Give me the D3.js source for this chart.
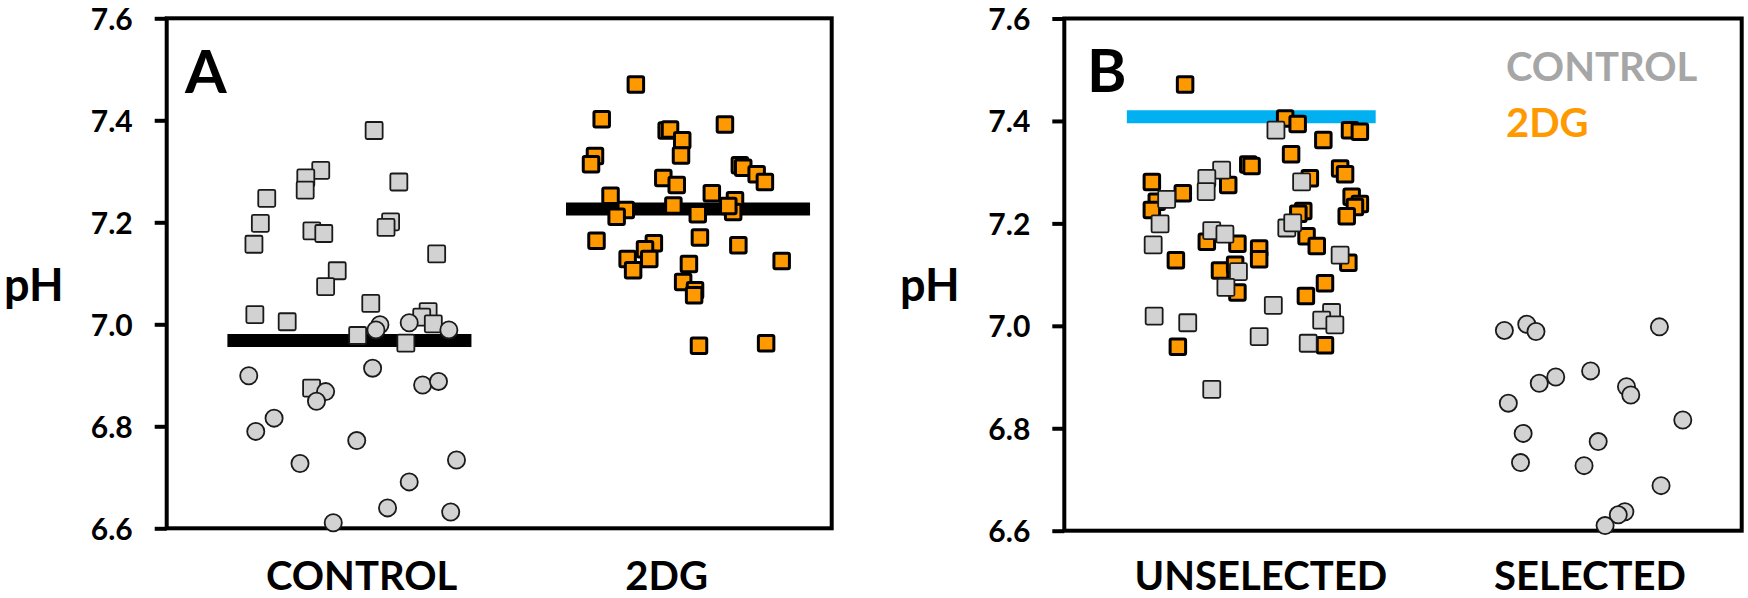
<!DOCTYPE html>
<html>
<head>
<meta charset="utf-8">
<script src="https://cdn.jsdelivr.net/npm/d3@7"></script>
<style>
  html, body { margin: 0; padding: 0; background: #fff; }
  svg { display: block; font-family: Lato, "Open Sans", sans-serif; font-weight: 700; }
</style>
</head>
<body>
<svg id="chart" width="1748" height="598"></svg>
<script>
// ---------------- DATA ----------------
const yTickValues = [6.6, 6.8, 7.0, 7.2, 7.4, 7.6];
const yDomain = [6.6, 7.6];
const yLabel = "pH";

const categoriesA = ["CONTROL", "2DG"];
const categoriesB = ["UNSELECTED", "SELECTED"];
const legendLabels = ["CONTROL", "2DG"];

// Panel A – CONTROL group, square cells  [x (category units, jittered), pH]
const controlSquaresA = [
  [0.041, 7.380], [-0.134, 7.302], [-0.183, 7.287], [-0.185, 7.263], [0.122, 7.279],
  [-0.311, 7.247], [-0.332, 7.198], [-0.353, 7.157], [-0.163, 7.183], [-0.124, 7.178],
  [0.095, 7.201], [0.080, 7.190], [0.246, 7.138], [-0.080, 7.105], [-0.118, 7.074],
  [0.030, 7.041], [-0.350, 7.019], [-0.244, 7.005], [-0.013, 6.978], [0.145, 6.963],
  [0.218, 7.025], [0.197, 7.014], [0.235, 7.001], [-0.164, 6.875]
];
// Panel A – CONTROL group, circle cells
const controlCirclesA = [
  [0.060, 6.999], [0.047, 6.989], [0.156, 7.003], [0.286, 6.989], [-0.370, 6.899],
  [0.036, 6.914], [0.200, 6.881], [0.252, 6.888], [-0.118, 6.868], [-0.148, 6.849],
  [-0.287, 6.816], [-0.347, 6.790], [-0.016, 6.772], [-0.202, 6.727], [0.311, 6.734],
  [0.156, 6.691], [0.085, 6.640], [0.292, 6.632], [-0.093, 6.611]
];
// Panel A – 2DG group
const dgSquaresA = [
  [0.899, 7.470], [0.787, 7.402], [1.191, 7.392], [1.000, 7.380], [1.011, 7.382],
  [1.051, 7.361], [1.047, 7.331], [0.765, 7.330], [0.752, 7.314], [1.240, 7.312],
  [1.251, 7.307], [1.295, 7.294], [1.322, 7.279], [0.989, 7.287], [1.033, 7.273],
  [1.148, 7.257], [0.816, 7.252], [0.866, 7.224], [0.836, 7.211], [1.022, 7.233],
  [1.102, 7.216], [1.224, 7.243], [1.218, 7.220], [1.202, 7.232], [0.770, 7.164],
  [1.109, 7.170], [1.235, 7.155], [0.958, 7.159], [0.929, 7.147], [0.943, 7.128],
  [0.872, 7.128], [0.890, 7.106], [1.377, 7.124], [1.073, 7.118], [1.054, 7.083],
  [1.093, 7.067], [1.090, 7.057], [1.106, 6.958], [1.326, 6.963]
];
// Panel A – mean lines  [value, from, to] (category units)
const meansA = [[6.968, -0.44, 0.36], [7.226, 0.67, 1.47]];

// Panel B – UNSELECTED, 2DG cells
const dgSquaresB = [
  [-0.230, 7.471], [0.074, 7.405], [0.112, 7.394], [0.271, 7.382], [0.301, 7.379],
  [0.190, 7.363], [0.092, 7.335], [-0.038, 7.315], [-0.028, 7.312], [0.241, 7.307],
  [0.256, 7.296], [0.149, 7.288], [-0.331, 7.281], [-0.099, 7.275], [-0.237, 7.259],
  [-0.316, 7.242], [-0.331, 7.226], [0.276, 7.252], [0.301, 7.238], [0.286, 7.232],
  [0.261, 7.214], [0.129, 7.224], [0.114, 7.219], [0.139, 7.175], [0.170, 7.156],
  [-0.164, 7.164], [-0.071, 7.160], [-0.005, 7.151], [-0.005, 7.130], [-0.258, 7.128],
  [0.266, 7.123], [-0.124, 7.108], [-0.078, 7.119], [0.195, 7.083], [0.137, 7.058],
  [-0.071, 7.065], [-0.252, 6.959], [0.195, 6.962]
];
// Panel B – UNSELECTED, CONTROL cells
const controlSquaresB = [
  [0.046, 7.382], [-0.119, 7.304], [-0.164, 7.288], [-0.166, 7.262], [-0.286, 7.247],
  [0.124, 7.281], [-0.306, 7.199], [-0.327, 7.158], [-0.149, 7.186], [-0.109, 7.179],
  [0.079, 7.191], [0.097, 7.201], [0.241, 7.138], [-0.068, 7.106], [-0.106, 7.075],
  [0.038, 7.040], [-0.324, 7.019], [-0.222, 7.006], [-0.005, 6.979], [0.144, 6.966],
  [0.215, 7.026], [0.185, 7.011], [0.225, 7.002], [-0.149, 6.876]
];
// Panel B – SELECTED, CONTROL cells (circles)
const selectedCirclesB = [
  [0.740, 6.991], [0.808, 7.003], [0.836, 6.989], [1.211, 6.998], [0.896, 6.900],
  [0.846, 6.888], [1.002, 6.912], [1.111, 6.881], [1.124, 6.865], [0.752, 6.849],
  [1.282, 6.816], [0.797, 6.790], [1.025, 6.774], [0.789, 6.733], [0.982, 6.727],
  [1.216, 6.688], [1.106, 6.637], [1.086, 6.631], [1.046, 6.610]
];
// Panel B – threshold line  [value, from, to]
const meansB = [[7.408, -0.407, 0.349]];

// ---------------- STYLE / LAYOUT ----------------
const GRAY = "#d2d2d2", ORANGE = "#ff9900", BLUE = "#00b0f0";
const svg = d3.select("#chart");

const panels = [
  { letter: "A", cats: categoriesA, xDomain: [-0.639, 1.541],
    left: 166.7, right: 831.7, top: 18.3, bottom: 528.3, pHx: 4, letterX: 185, letterY: 93,
    means: meansA, meanColor: "#000",
    layers: [
      { data: controlSquaresA, shape: "square", fill: GRAY },
      { data: controlCirclesA, shape: "circle", fill: GRAY },
      { data: dgSquaresA, shape: "square", fill: ORANGE }
    ] },
  { letter: "B", cats: categoriesB, xDomain: [-0.597, 1.461],
    left: 1064.3, right: 1741.7, top: 18.5, bottom: 530.7, pHx: 900, letterX: 1087, letterY: 91.5,
    means: meansB, meanColor: BLUE, legend: true,
    layers: [
      { data: dgSquaresB, shape: "square", fill: ORANGE },
      { data: controlSquaresB, shape: "square", fill: GRAY },
      { data: selectedCirclesB, shape: "circle", fill: GRAY }
    ] }
];

panels.forEach(p => {
  const x = d3.scaleLinear().domain(p.xDomain).range([p.left, p.right]);
  const y = d3.scaleLinear().domain(yDomain).range([p.bottom, p.top]);
  const g = svg.append("g");

  // y axis ticks + labels
  const axis = d3.axisLeft(y).tickValues(yTickValues).tickFormat(d3.format(".1f"))
    .tickSize(12).tickPadding(22);
  const ag = g.append("g").attr("transform", `translate(${p.left},0)`).call(axis);
  ag.select(".domain").remove();
  ag.selectAll(".tick line").attr("stroke", "#000").attr("stroke-width", 4);
  ag.selectAll(".tick text").attr("font-family", "Lato, sans-serif").attr("font-weight", 700)
    .attr("font-size", 30).attr("fill", "#000").attr("dy", "0.36em");

  // frame
  g.append("rect").attr("x", p.left).attr("y", p.top)
    .attr("width", p.right - p.left).attr("height", p.bottom - p.top)
    .attr("fill", "none").attr("stroke", "#000").attr("stroke-width", 4);

  // y label
  g.append("text").attr("x", p.pHx).attr("y", 301).attr("font-size", 45)
    .attr("fill", "#000").text(yLabel);

  // panel letter
  g.append("text").attr("x", p.letterX).attr("y", p.letterY).attr("font-size", 60)
    .attr("fill", "#000").text(p.letter);

  // category labels
  g.selectAll(".cat").data(p.cats).enter().append("text")
    .attr("x", (d, i) => x(i)).attr("y", 590).attr("text-anchor", "middle")
    .attr("font-size", 40).attr("fill", "#000").text(d => d);

  // mean / threshold lines
  g.selectAll(".mean").data(p.means).enter().append("line")
    .attr("x1", d => x(d[1])).attr("x2", d => x(d[2]))
    .attr("y1", d => y(d[0])).attr("y2", d => y(d[0]))
    .attr("stroke", p.meanColor).attr("stroke-width", 13);

  // points
  p.layers.forEach(L => {
    const isOrange = L.fill === ORANGE;
    const sw = isOrange ? 3 : 1.8;
    const stroke = isOrange ? "#000" : "#1a1a1a";
    if (L.shape === "square") {
      const s = isOrange ? 15.5 : 17;
      g.append("g").selectAll("rect").data(L.data).enter().append("rect")
        .attr("x", d => x(d[0]) - s / 2).attr("y", d => y(d[1]) - s / 2)
        .attr("width", s).attr("height", s).attr("rx", 1.5)
        .attr("fill", L.fill).attr("stroke", stroke).attr("stroke-width", sw);
    } else {
      g.append("g").selectAll("circle").data(L.data).enter().append("circle")
        .attr("cx", d => x(d[0])).attr("cy", d => y(d[1])).attr("r", 8.6)
        .attr("fill", L.fill).attr("stroke", stroke).attr("stroke-width", sw);
    }
  });

  if (p.legend) {
    const colors = ["#a6a6a6", ORANGE];
    const ys = [81, 136.5];
    g.selectAll(".leg").data(legendLabels).enter().append("text")
      .attr("x", 1506).attr("y", (d, i) => ys[i]).attr("font-size", 40)
      .attr("fill", (d, i) => colors[i]).text(d => d);
  }
});
</script>
</body>
</html>
